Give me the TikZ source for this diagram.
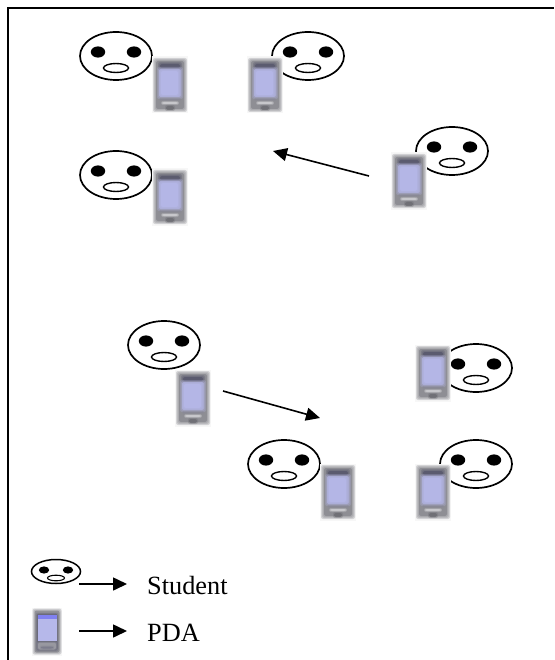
\documentclass[tikz,border=0pt]{standalone}
\usepackage{fontspec}
\setmainfont{Liberation Serif}
\usetikzlibrary{arrows.meta}
\definecolor{pdagray}{HTML}{85858C}
\definecolor{pdadark}{HTML}{55556A}
\definecolor{pdascreen}{HTML}{B6B8EA}
\newcommand{\blurbox}[6]{% colour, blur, x1,y1,x2,y2
  \foreach \d in {1,...,#2}{
    \fill[#1,opacity=.3,rounded corners=2pt]
      ({#3-(#2+1-\d)},{#4-(#2+1-\d)}) rectangle ({#5+(#2+1-\d)},{#6+(#2+1-\d)});
  }
  \fill[#1,opacity=.75,rounded corners=2pt] (#3,#4) rectangle (#5,#6);
}
\tikzset{
  x=1pt,y=-1pt,
  frameline/.style={line width=2pt,line cap=butt},
  conn/.style={line width=1.6pt,-{Triangle[length=14pt,width=13pt]}},
  label text/.style={font=\fontsize{26.3}{30}\selectfont,anchor=base west,inner sep=0pt},
  pics/face/.style={code={
    \draw[line width=1.7pt,fill=white] (0,0) ellipse [x radius=36,y radius=24];
    \fill (-18,-4) ellipse [x radius=7.2,y radius=5.6];
    \fill (18,-4) ellipse [x radius=7.2,y radius=5.6];
    \draw[line width=1.4pt,fill=white] (0,12) ellipse [x radius=12.5,y radius=4.5];
  }},
  pics/smallface/.style={code={
    \draw[line width=1.5pt,fill=white] (0,0) ellipse [x radius=24.5,y radius=12];
    \fill (-12,-1.5) ellipse [x radius=5.2,y radius=3.6];
    \fill (12,-1.5) ellipse [x radius=5.2,y radius=3.6];
    \draw[line width=1.1pt,fill=white] (0,6.5) ellipse [x radius=8.5,y radius=2.8];
  }},
  pics/pda/.style={code={
    \fill[white!94!gray] (-18,-28.5) rectangle (18,28.5);
    \blurbox{pdagray}{3}{-14}{-24}{14}{24}
    \blurbox{pdadark}{2}{-10}{-21}{10}{-17}
    \blurbox{pdascreen!85!gray}{2}{-11}{-16}{11}{12}
    \blurbox{pdascreen}{2}{-9}{-14}{8}{10}
    \blurbox{white!65!pdagray}{1}{-8}{17}{8}{19}
    \blurbox{pdadark!70!white}{1}{-10}{14}{10}{15}
    \blurbox{pdagray!80!black}{1}{-4}{21}{4}{25}
  }},
  pics/smallpda/.style={code={
    \fill[white!94!gray] (-15,-24) rectangle (15,24);
    \blurbox{pdagray}{2}{-12.5}{-21}{12.5}{21}
    \blurbox{pdadark!70!pdagray}{1}{-10.5}{-18}{10.5}{19}
    \fill[pdascreen!70!blue] (-9.5,-17) rectangle (9.5,-13);
    \fill[pdascreen] (-9.5,-13) rectangle (9.5,9);
    \blurbox{pdagray!75!white}{1}{-9}{11}{9}{18}
    \blurbox{pdadark!80!white}{1}{-6}{15}{6}{17}
  }}
}
\begin{document}
\begin{tikzpicture}
\useasboundingbox (0,0) rectangle (554,660);
\fill[white] (0,0) rectangle (554,660);
\coordinate (cornerLB) at (7.5,660);
\coordinate (cornerTL) at (7.5,8);
\coordinate (cornerTR) at (554,8);
\draw[frameline] (cornerLB) -- (cornerTL) -- (cornerTR);
% top group
\pic at (116,56) {face}; \pic at (170,85) {pda};
\pic at (308,56) {face}; \pic at (265,85) {pda};
\pic at (116,175) {face}; \pic at (170,197) {pda};
\pic at (452,151) {face}; \pic at (409,181) {pda};
% bottom group
\pic at (164,345) {face}; \pic at (193,398) {pda};
\pic at (476,368) {face}; \pic at (433,373) {pda};
\pic at (284,464) {face}; \pic at (338,492) {pda};
\pic at (476,464) {face}; \pic at (433,492) {pda};
% flow arrows
\coordinate (a1s) at (369,176); \coordinate (a1e) at (273,151);
\coordinate (a2s) at (223,391); \coordinate (a2e) at (320,418);
\draw[conn] (a1s) -- (a1e);
\draw[conn] (a2s) -- (a2e);
% legend
\pic at (56,571.5) {smallface};
\pic at (47,631.5) {smallpda};
\coordinate (l1s) at (79,584); \coordinate (l1e) at (127,584);
\coordinate (l2s) at (79,631); \coordinate (l2e) at (127,631);
\draw[conn] (l1s) -- (l1e);
\draw[conn] (l2s) -- (l2e);
\node[label text] (student) at (147,594.5) {Student};
\node[label text] (pda) at (147,641.5) {PDA};
\end{tikzpicture}
\end{document}
